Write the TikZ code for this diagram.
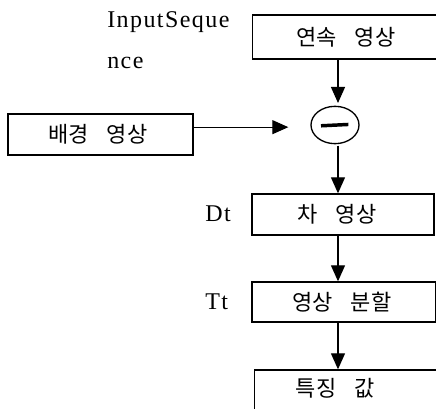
\documentclass[tikz,border=0pt]{standalone}
\usepackage{fontspec}
\setmainfont{Liberation Serif}
\newfontfamily\kr[LetterSpace=3]{Noto Sans CJK KR}
\newfontfamily\lsp[LetterSpace=6]{Liberation Serif}
\usetikzlibrary{arrows.meta,shapes.geometric}
\tikzset{
  box/.style={draw, line width=1pt, rectangle, inner sep=0pt},
  arr/.style={line width=0.9pt, -{Triangle[width=10.5pt,length=12pt]}},
  lab/.style={font=\lsp\fontsize{18}{21}\selectfont, inner sep=0pt, anchor=base west},
  txt/.style={font=\kr\fontsize{16.5}{19}\selectfont, inner sep=0pt}
}
\newcommand{\wsp}{\hspace{0.8em}}
\begin{document}
\begin{tikzpicture}[x=0.75pt,y=-0.75pt]
\useasboundingbox (0,0) rectangle (436,409);
\coordinate (col) at (338,0);
% boxes
\node[box, minimum width=139pt, minimum height=33pt] (A) at (345,37) {};
\node[txt] (tA) at (346,37) {연속\wsp 영상};
\node[box, minimum width=138.75pt, minimum height=30.75pt] (B) at (100.5,134.5) {};
\node[txt] (tB) at (98,134.5) {배경\wsp 영상};
\node[box, minimum width=136.5pt, minimum height=30.75pt] (C) at (343,214.5) {};
\node[txt] (tC) at (337,214.5) {차\wsp 영상};
\node[box, minimum width=138pt, minimum height=30pt] (D) at (344,302) {};
\node[txt] (tD) at (342,302) {영상\wsp 분할};
\node[box, minimum width=137pt, minimum height=31.5pt] (E) at (345.5,391) {};
\node[txt] (tE) at (335,388) {특징\wsp 값};
% subtraction node
\node[draw, ellipse, line width=1pt, minimum width=36pt, minimum height=28pt, inner sep=0pt] (S) at (335,125) {};
\draw[line width=2.6pt] ([xshift=-10.5pt,yshift=-0.6pt]S.center) -- ([xshift=10pt,yshift=0.4pt]S.center);
% labels
\node[lab] (L1) at (107,28) {InputSeque};
\node[lab] (L2) at (107,69) {nce};
\node[lab] (L3) at (205,222) {Dt};
\node[lab] (L4) at (205,310) {Tt};
% connectors
\draw[arr] (A.south -| col) -- ([yshift=2pt]S.north -| col);
\draw[arr, shorten >=16.5pt] ([yshift=5.5pt]B.east) -- ([yshift=5.5pt]B.east -| S.west);
\draw[arr] ([yshift=-1pt]S.south -| col) -- (C.north -| col);
\draw[arr] (C.south -| col) -- (D.north -| col);
\draw[arr] (D.south -| col) -- (E.north -| col);
\end{tikzpicture}
\end{document}
